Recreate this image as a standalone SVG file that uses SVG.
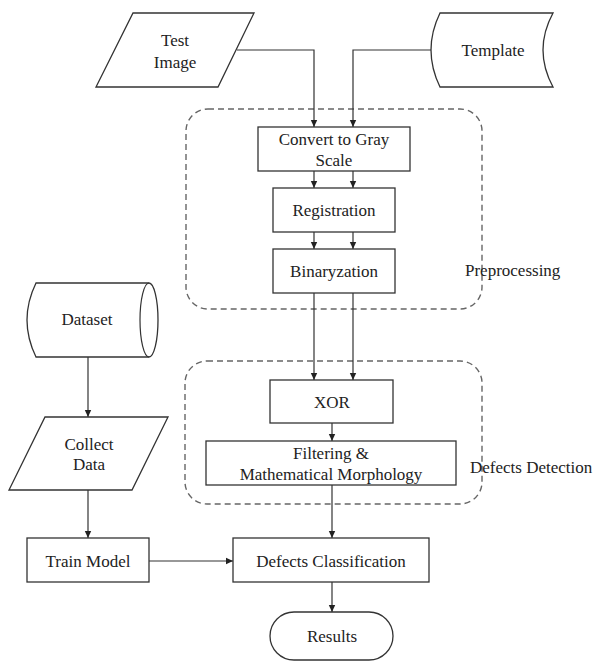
<svg xmlns="http://www.w3.org/2000/svg" width="595" height="663" viewBox="0 0 595 663">
  <defs>
    <marker id="arrow" markerWidth="8" markerHeight="8" refX="7" refY="4" orient="auto" markerUnits="userSpaceOnUse">
      <path d="M0,0.8 L7,4 L0,7.2 Z" fill="#222"/>
    </marker>
    <style>
      .shape { fill: #fff; stroke: #333; stroke-width: 1.3; }
      .group { fill: none; stroke: #666; stroke-width: 1.4; stroke-dasharray: 6 4; }
      .edge { fill: none; stroke: #333; stroke-width: 1.2; marker-end: url(#arrow); }
      .line { fill: none; stroke: #333; stroke-width: 1.2; }
      text { font-family: "Liberation Serif", "Times New Roman", serif; font-size: 17px; fill: #222; text-anchor: middle; }
      .lbl { text-anchor: start; }
    </style>
  </defs>

  <rect width="595" height="663" fill="#fff"/>

  <!-- dashed stage groups -->
  <g id="preprocessing">
    <rect class="group" x="186" y="109" width="296" height="200" rx="22"/>
    <text class="lbl" x="465" y="276">Preprocessing</text>
  </g>
  <g id="defects-detection">
    <rect class="group" x="185" y="361" width="297" height="143" rx="22"/>
    <text class="lbl" x="470" y="473">Defects Detection</text>
  </g>

  <!-- connectors -->
  <g id="connectors">
    <path class="edge" d="M237,50 L314,50 L314,127"/>
    <path class="edge" d="M431,50 L353,50 L353,127"/>
    <path class="edge" d="M314,171 L314,188"/>
    <path class="edge" d="M353,171 L353,188"/>
    <path class="edge" d="M314,232 L314,249"/>
    <path class="edge" d="M353,232 L353,249"/>
    <path class="edge" d="M314,293 L314,380"/>
    <path class="edge" d="M353,293 L353,380"/>
    <path class="edge" d="M332,423 L332,441"/>
    <path class="edge" d="M332,485 L332,538"/>
    <path class="edge" d="M88,357 L88,417"/>
    <path class="edge" d="M88,490 L88,538"/>
    <path class="edge" d="M149,561 L233,561"/>
    <path class="edge" d="M332,582 L332,612"/>
  </g>

  <!-- nodes -->
  <g id="test-image">
    <path class="shape" d="M133,13 L254,13 L218,87 L96,87 Z"/>
    <text x="175" y="46">Test</text>
    <text x="175" y="68">Image</text>
  </g>
  <g id="template">
    <path class="shape" d="M440,13 L553,13 Q533,50 553,87 L440,87 Q422,50 440,13 Z"/>
    <text x="493" y="56">Template</text>
  </g>
  <g id="gray-scale">
    <rect class="shape" x="258" y="127" width="152" height="44"/>
    <text x="334" y="145">Convert to Gray</text>
    <text x="334" y="166">Scale</text>
  </g>
  <g id="registration">
    <rect class="shape" x="273" y="188" width="122" height="44"/>
    <text x="334" y="216">Registration</text>
  </g>
  <g id="binaryzation">
    <rect class="shape" x="273" y="249" width="122" height="44"/>
    <text x="334" y="277">Binaryzation</text>
  </g>
  <g id="xor">
    <rect class="shape" x="270" y="380" width="123" height="43"/>
    <text x="332" y="408">XOR</text>
  </g>
  <g id="filtering">
    <rect class="shape" x="206" y="441" width="250" height="44"/>
    <text x="331" y="459">Filtering &amp;</text>
    <text x="331" y="480">Mathematical Morphology</text>
  </g>
  <g id="dataset">
    <path class="shape" d="M36,283 L149,283 A9,37 0 0,1 149,357 L36,357 Q18,320 36,283 Z"/>
    <path class="line" d="M149,283 A9,37 0 0,0 149,357"/>
    <text x="87" y="325">Dataset</text>
  </g>
  <g id="collect-data">
    <path class="shape" d="M45,417 L168,417 L132,490 L9,490 Z"/>
    <text x="89" y="450">Collect</text>
    <text x="89" y="470">Data</text>
  </g>
  <g id="train-model">
    <rect class="shape" x="27" y="538" width="122" height="44"/>
    <text x="88" y="567">Train Model</text>
  </g>
  <g id="defects-classification">
    <rect class="shape" x="233" y="538" width="196" height="44"/>
    <text x="331" y="567">Defects Classification</text>
  </g>
  <g id="results">
    <rect class="shape" x="270" y="612" width="123" height="48" rx="24"/>
    <text x="332" y="642">Results</text>
  </g>
</svg>
